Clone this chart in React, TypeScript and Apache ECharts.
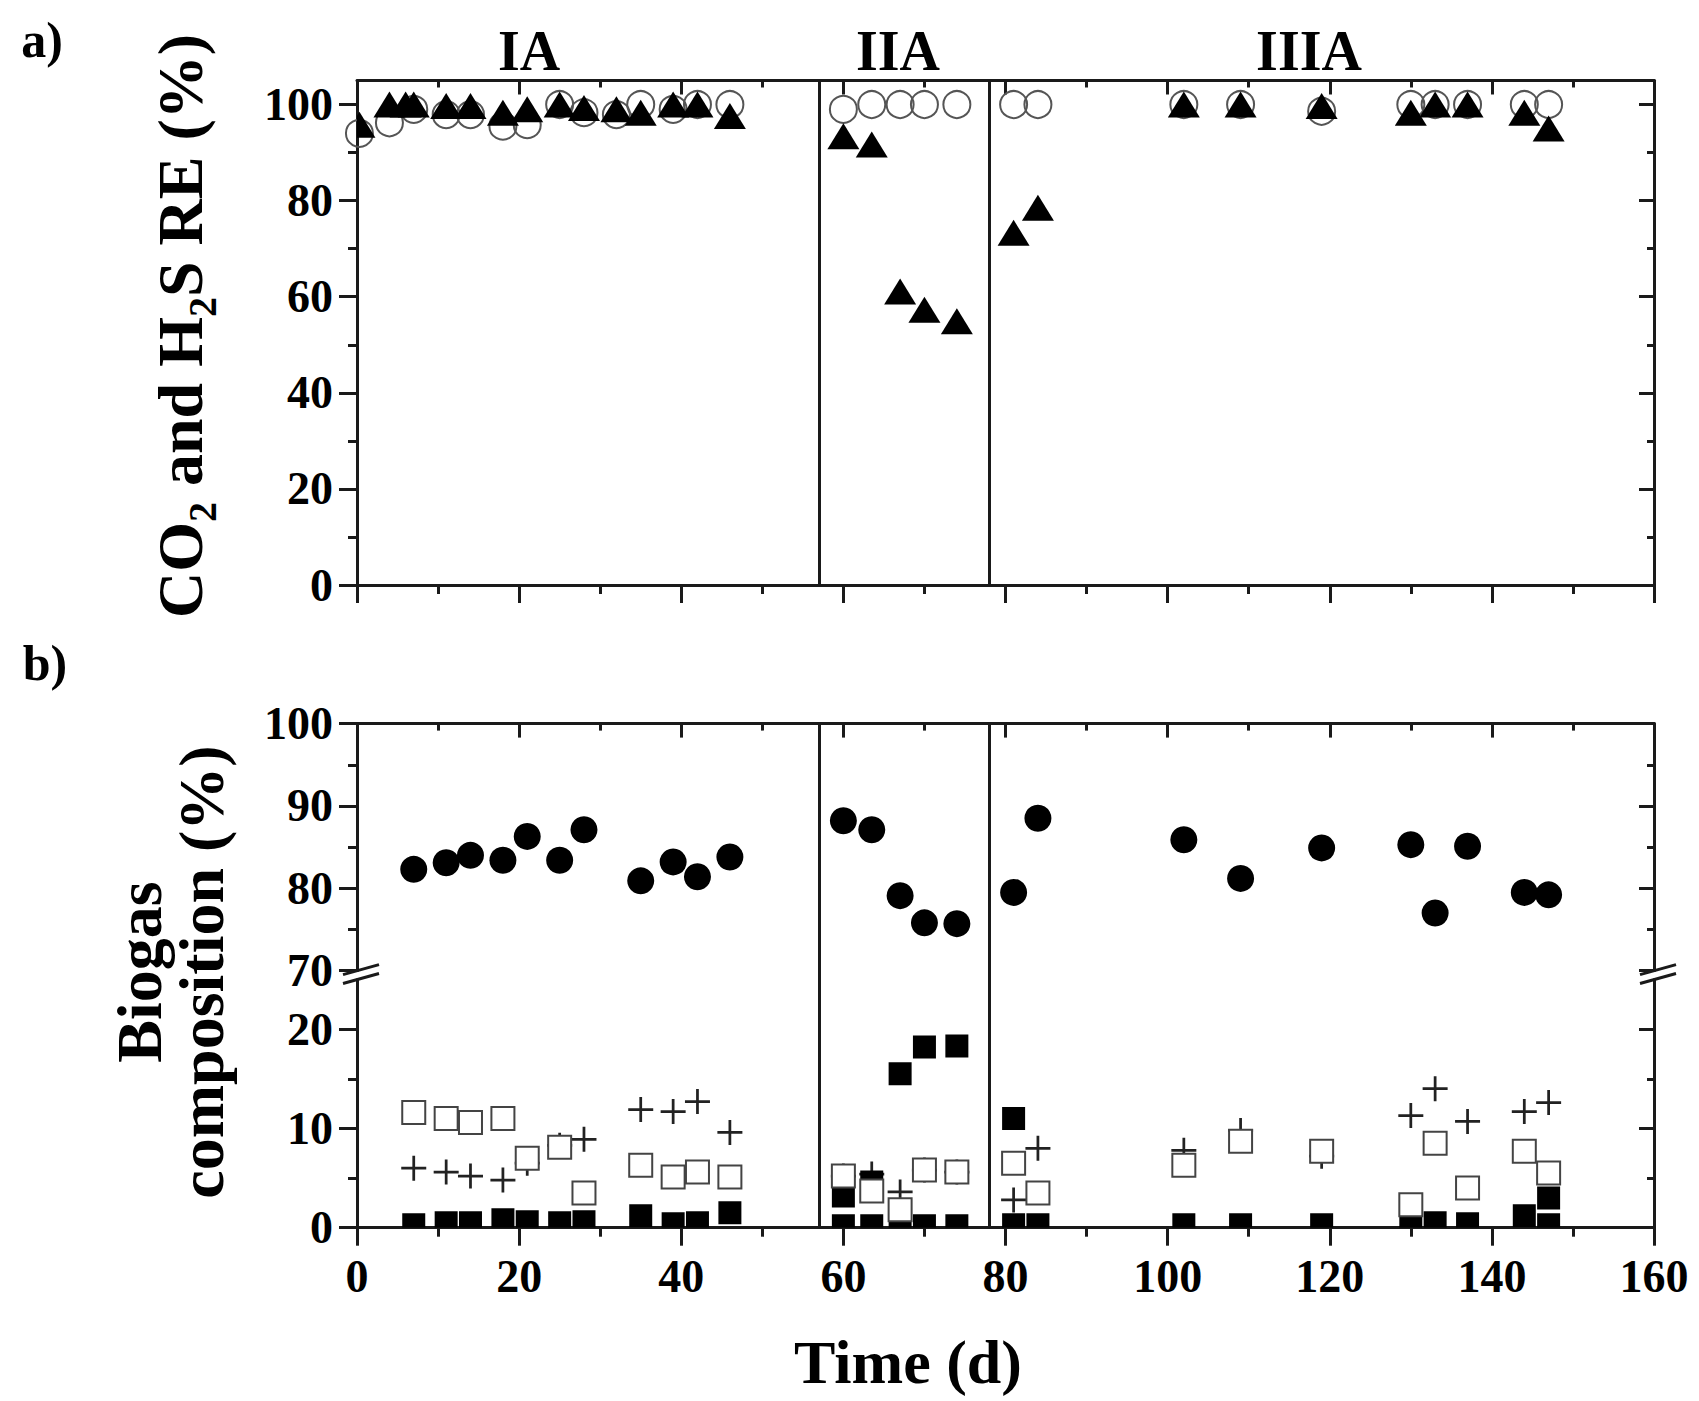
import React, { useEffect, useRef } from 'react';
import * as echarts from 'echarts';

// ---------------- data ----------------
// a) removal efficiencies (%)
const co2ReDays = [0.3, 4, 6, 7, 11, 14, 18, 21, 25, 28, 32, 35, 39, 42, 46, 60, 63.5, 67, 70, 74, 81, 84, 102, 109, 119, 130, 133, 137, 144, 147];
const co2Removal = [95.8, 100, 100, 100, 99.7, 99.7, 98.3, 99, 100, 99.3, 99, 98.3, 100, 100, 97.6, 93.4, 91.7, 61.1, 57.3, 54.9, 73.3, 78.5, 100, 100, 99.7, 98.3, 100, 100, 98.3, 95];
const h2sReDays = [0.3, 4, 7, 11, 14, 18, 21, 25, 28, 32, 35, 39, 42, 46, 60, 63.5, 67, 70, 74, 81, 84, 102, 109, 119, 130, 133, 137, 144, 147];
const h2sRemoval = [94, 96.2, 99, 97.9, 97.9, 95.5, 95.8, 100, 98.3, 97.9, 100, 99, 100, 100, 99, 100, 100, 100, 100, 100, 100, 100, 100, 98.6, 100, 100, 100, 100, 100];

// b) biogas composition (%)
const gasDays = [7, 11, 14, 18, 21, 25, 28, 35, 39, 42, 46, 60, 63.5, 67, 70, 74, 81, 84, 102, 109, 119, 130, 133, 137, 144, 147];
const ch4Pct = [82.3, 83.1, 84.0, 83.4, 86.3, 83.4, 87.1, 80.9, 83.2, 81.4, 83.8, 88.2, 87.1, 79.1, 75.8, 75.7, 79.5, 88.5, 85.9, 81.2, 84.9, 85.3, 77.0, 85.1, 79.5, 79.2];
const co2Pct = [11.6, 11.0, 10.6, 11.0, 7.0, 8.1, 3.5, 6.3, 5.1, 5.6, 5.1, 5.2, 3.7, 1.8, 5.8, 5.6, 6.5, 3.5, 6.3, 8.7, 7.7, 2.3, 8.5, 4.0, 7.7, 5.5];
const n2Pct = [6.0, 5.6, 5.2, 4.8, 6.5, 8.3, 8.9, 11.9, 11.7, 12.7, 9.6, 5.2, 5.4, 3.6, 5.8, 5.6, 2.8, 8.0, 7.8, 9.8, 7.2, 11.3, 14.0, 10.7, 11.7, 12.6];
const o2Pct = [0.3, 0.5, 0.5, 0.8, 0.6, 0.5, 0.6, 1.2, 0.4, 0.5, 1.5, 3.2, 4.6, 15.5, 18.2, 18.3, 11.0, 0.3, 0.3, 0.3, 0.3, 0.1, 0.5, 0.4, 1.2, 3.0];
const h2sGasDays = [60, 63.5, 67, 70, 74, 81, 147];
const h2sPct = [0.2, 0.2, 0.2, 0.2, 0.2, 0.3, 0.3];

// axes / annotations
const xMajor = [0, 20, 40, 60, 80, 100, 120, 140, 160];
const xMinor = [10, 30, 50, 70, 90, 110, 130, 150];
const topYMajor = [0, 20, 40, 60, 80, 100];
const topYMinor = [10, 30, 50, 70, 90];
const upYMajor = [70, 80, 90, 100];
const upYMinor = [75, 85, 95];
const lowYMajor = [0, 10, 20];
const lowYMinor = [5, 15];
const phaseBounds = [57, 78];
const phaseLabels = ['IA', 'IIA', 'IIIA'];

// ---------------- layout ----------------
const W = 1699;
const H = 1401;
const PL = 357;
const PW = 1297;
const G0 = { top: 80.5, height: 504.5 };
const G1 = { top: 723.6, height: 247 };
const G2 = { top: 979.5, height: 248.2 };
const G3 = { top: 723.6, height: 504.1 };

const INK = '#1a1a1a';
const SERIF = '"Liberation Serif", "Times New Roman", serif';
const TICK_FONT = 46;
const TITLE_FONT = 64;

const zip = (xs: number[], ys: number[]) => xs.map((x, i) => [x, ys[i]]);

function axis(grid: number, position: string, min: number, max: number, ticks: number[], len: number, inside: boolean, opt: any = {}) {
  return {
    type: 'value',
    gridIndex: grid,
    position,
    min,
    max,
    show: opt.show === undefined ? true : opt.show,
    axisLine: { show: !!opt.line, onZero: false, lineStyle: { color: INK, width: 3 } },
    axisTick: { show: ticks.length > 0, inside, length: len, customValues: ticks, lineStyle: { color: INK, width: 3 } },
    axisLabel: opt.labels
      ? { show: true, customValues: opt.labels, margin: opt.margin, color: '#000', fontFamily: SERIF, fontWeight: 'bold', fontSize: TICK_FONT }
      : { show: false },
    splitLine: { show: false },
    minorTick: { show: false },
  };
}

function clipPoly(pts: number[][], r: { x: number; y: number; width: number; height: number }) {
  const x1 = r.x, x2 = r.x + r.width, y1 = r.y, y2 = r.y + r.height;
  const bounds = [
    { inside: (p: number[]) => p[0] >= x1, inter: (a: number[], b: number[]) => [x1, a[1] + ((x1 - a[0]) / (b[0] - a[0])) * (b[1] - a[1])] },
    { inside: (p: number[]) => p[0] <= x2, inter: (a: number[], b: number[]) => [x2, a[1] + ((x2 - a[0]) / (b[0] - a[0])) * (b[1] - a[1])] },
    { inside: (p: number[]) => p[1] >= y1, inter: (a: number[], b: number[]) => [a[0] + ((y1 - a[1]) / (b[1] - a[1])) * (b[0] - a[0]), y1] },
    { inside: (p: number[]) => p[1] <= y2, inter: (a: number[], b: number[]) => [a[0] + ((y2 - a[1]) / (b[1] - a[1])) * (b[0] - a[0]), y2] },
  ];
  let out = pts;
  for (const bd of bounds) {
    const inp = out;
    out = [];
    for (let i = 0; i < inp.length; i++) {
      const cur = inp[i];
      const prev = inp[(i + inp.length - 1) % inp.length];
      const ci = bd.inside(cur);
      const pi = bd.inside(prev);
      if (ci) {
        if (!pi) out.push(bd.inter(prev, cur));
        out.push(cur);
      } else if (pi) {
        out.push(bd.inter(prev, cur));
      }
    }
    if (!out.length) break;
  }
  return out;
}

const triangleItem = (params: any, api: any) => {
  const p = api.coord([api.value(0), api.value(1)]);
  const w = 32, h = 26;
  const cs = params.coordSys;
  const pts = clipPoly([[p[0], p[1] - h / 2], [p[0] + w / 2, p[1] + h / 2], [p[0] - w / 2, p[1] + h / 2]], cs);
  if (pts.length < 3) return null;
  return { type: 'polygon', shape: { points: pts }, style: { fill: '#000' } };
};

const squareItem = (params: any, api: any) => {
  const p = api.coord([api.value(0), api.value(1)]);
  const s = 23;
  const cs = params.coordSys;
  const r = echarts.graphic.clipRectByRect({ x: p[0] - s / 2, y: p[1] - s / 2, width: s, height: s }, { x: cs.x, y: cs.y, width: cs.width, height: cs.height });
  if (!r) return null;
  return { type: 'rect', shape: r, style: { fill: '#000' } };
};

const PLUS = 'path://M4.45,0h1.1v4.45h4.45v1.1h-4.45v4.45h-1.1v-4.45h-4.45v-1.1h4.45z';

const vLines = {
  silent: true,
  symbol: ['none', 'none'],
  label: { show: false },
  lineStyle: { color: INK, width: 3, type: 'solid' },
  data: phaseBounds.map((v) => ({ xAxis: v })),
};

const txt = (text: string, x: number, y: number, size: number, extra: any = {}) => ({
  type: 'text',
  x,
  y,
  ...extra,
  style: {
    text,
    fontFamily: SERIF,
    fontWeight: 'bold',
    fontSize: size,
    fill: '#000',
    textAlign: 'center',
    textVerticalAlign: 'middle',
    ...(extra.style || {}),
  },
});

const breakMarks = () => {
  const y1 = G1.top + G1.height;
  const y2 = G2.top;
  const out: any[] = [];
  for (const X of [PL, PL + PW]) {
    for (const y of [y1, y2]) {
      out.push({
        type: 'line',
        shape: { x1: X - 14, y1: y + 4, x2: X + 22, y2: y - 6 },
        style: { stroke: INK, lineWidth: 3 },
      });
    }
  }
  return out;
};

const option: any = {
  animation: false,
  backgroundColor: '#fff',
  grid: [
    { left: PL, width: PW, top: G0.top, height: G0.height },
    { left: PL, width: PW, top: G1.top, height: G1.height },
    { left: PL, width: PW, top: G2.top, height: G2.height },
    { left: PL, width: PW, top: G3.top, height: G3.height },
  ],
  xAxis: [
    axis(0, 'bottom', 0, 160, xMajor, 18, false, { line: true }),
    axis(0, 'bottom', 0, 160, xMinor, 9, false),
    axis(0, 'top', 0, 160, xMajor, 14, true, { line: true }),
    axis(0, 'top', 0, 160, xMinor, 7, true),
    axis(1, 'top', 0, 160, xMajor, 14, true, { line: true }),
    axis(1, 'top', 0, 160, xMinor, 7, true),
    axis(2, 'bottom', 0, 160, xMajor, 18, false, { line: true, labels: xMajor, margin: 26 }),
    axis(2, 'bottom', 0, 160, xMinor, 9, false),
    axis(3, 'bottom', 0, 160, [], 0, false, { show: false }),
  ],
  yAxis: [
    axis(0, 'left', 0, 105, topYMajor, 18, false, { line: true, labels: topYMajor, margin: 24 }),
    axis(0, 'left', 0, 105, topYMinor, 9, false),
    axis(0, 'right', 0, 105, topYMajor, 15, true, { line: true }),
    axis(0, 'right', 0, 105, topYMinor, 7, true),
    axis(1, 'left', 70, 100, upYMajor, 18, false, { line: true, labels: upYMajor, margin: 24 }),
    axis(1, 'left', 70, 100, upYMinor, 9, false),
    axis(1, 'right', 70, 100, upYMajor, 15, true, { line: true }),
    axis(1, 'right', 70, 100, upYMinor, 7, true),
    axis(2, 'left', 0, 25, lowYMajor, 18, false, { line: true, labels: lowYMajor, margin: 24 }),
    axis(2, 'left', 0, 25, lowYMinor, 9, false),
    axis(2, 'right', 0, 25, lowYMajor, 15, true, { line: true }),
    axis(2, 'right', 0, 25, lowYMinor, 7, true),
    axis(3, 'left', 0, 1, [], 0, false, { show: false }),
  ],
  series: [
    {
      name: 'H2S RE',
      type: 'scatter',
      xAxisIndex: 0,
      yAxisIndex: 0,
      z: 2,
      symbol: 'circle',
      symbolSize: 27,
      itemStyle: { color: 'rgba(255,255,255,0)', borderColor: '#555', borderWidth: 2, opacity: 1 },
      data: zip(h2sReDays, h2sRemoval),
      markLine: vLines,
    },
    {
      name: 'CO2 RE',
      type: 'custom',
      xAxisIndex: 0,
      yAxisIndex: 0,
      z: 3,
      clip: true,
      encode: { x: 0, y: 1 },
      renderItem: triangleItem,
      data: zip(co2ReDays, co2Removal),
    },
    {
      name: 'CH4',
      type: 'scatter',
      xAxisIndex: 4,
      yAxisIndex: 4,
      z: 3,
      symbol: 'circle',
      symbolSize: 27,
      itemStyle: { color: '#000', opacity: 1 },
      data: zip(gasDays, ch4Pct),
    },
    {
      name: 'N2',
      type: 'scatter',
      xAxisIndex: 6,
      yAxisIndex: 8,
      z: 2,
      symbol: PLUS,
      symbolSize: 25,
      itemStyle: { color: '#222', opacity: 1 },
      data: zip(gasDays, n2Pct),
    },
    {
      name: 'O2',
      type: 'custom',
      xAxisIndex: 6,
      yAxisIndex: 8,
      z: 3,
      clip: true,
      encode: { x: 0, y: 1 },
      renderItem: squareItem,
      data: zip(gasDays, o2Pct),
    },
    {
      name: 'H2S',
      type: 'custom',
      xAxisIndex: 6,
      yAxisIndex: 8,
      z: 3,
      clip: true,
      encode: { x: 0, y: 1 },
      renderItem: squareItem,
      data: zip(h2sGasDays, h2sPct),
    },
    {
      name: 'CO2',
      type: 'scatter',
      xAxisIndex: 6,
      yAxisIndex: 8,
      z: 4,
      symbol: 'rect',
      symbolSize: 23,
      itemStyle: { color: '#fff', borderColor: '#444', borderWidth: 2, opacity: 1 },
      data: zip(gasDays, co2Pct),
    },
    {
      name: 'phases',
      type: 'scatter',
      xAxisIndex: 8,
      yAxisIndex: 12,
      symbolSize: 0,
      data: [[-100, -100]],
      markLine: vLines,
    },
  ],
  graphic: [
    txt('a)', 42, 40, 50),
    txt('b)', 45, 663, 50),
    txt(phaseLabels[0], 529, 51, 56),
    txt(phaseLabels[1], 898, 51, 56),
    txt(phaseLabels[2], 1309, 51, 56),
    {
      type: 'text',
      x: 180,
      y: 326,
      rotation: Math.PI / 2,
      style: {
        text: '{a|CO}{s|2}{a| and H}{s|2}{a|S RE (%)}',
        textAlign: 'center',
        textVerticalAlign: 'middle',
        fill: '#000',
        rich: {
          a: { fontFamily: SERIF, fontWeight: 'bold', fontSize: TITLE_FONT, fill: '#000', lineHeight: 84, verticalAlign: 'middle' },
          s: { fontFamily: SERIF, fontWeight: 'bold', fontSize: 40, fill: '#000', lineHeight: 84, verticalAlign: 'bottom' },
        },
      },
    },
    txt('Biogas', 139, 972, TITLE_FONT, { rotation: Math.PI / 2 }),
    txt('composition (%)', 201, 972, TITLE_FONT, { rotation: Math.PI / 2 }),
    txt('Time (d)', 908, 1362, 62),
    ...breakMarks(),
  ],
};

export default function App() {
  const ref = useRef<HTMLDivElement>(null);
  useEffect(() => {
    if (!ref.current) return;
    const chart = echarts.init(ref.current, null, { renderer: 'svg', width: W, height: H });
    chart.setOption(option);
    return () => chart.dispose();
  }, []);
  return <div ref={ref} style={{ position: 'absolute', left: 0, top: 0, width: W, height: H, background: '#fff' }} />;
}
